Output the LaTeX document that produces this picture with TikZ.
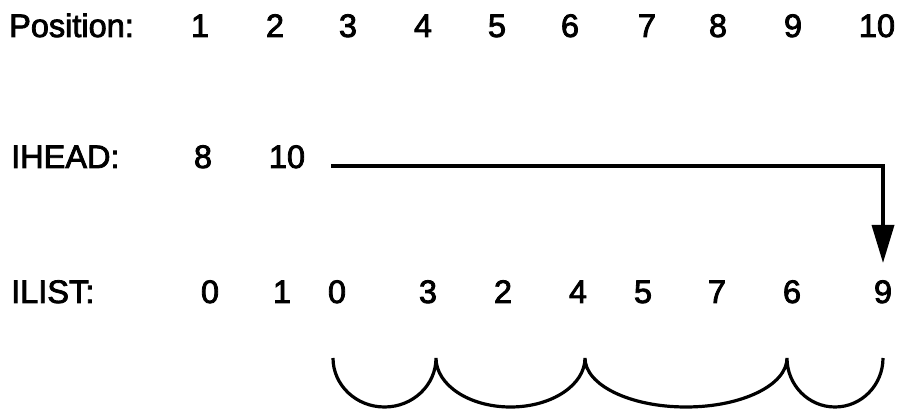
\documentclass[tikz,border=0pt]{standalone}
\usepackage{fontspec}
\setmainfont{Liberation Sans}[FakeBold=2.5]
\usetikzlibrary{arrows.meta}
\begin{document}
\begin{tikzpicture}[x=1pt,y=1pt,
  txt/.style={font=\fontsize{32.5}{38}\selectfont, inner sep=0pt, anchor=base},
  lbl/.style={txt, anchor=base west},
  link/.style={line width=3.5pt, -{Triangle[width=22pt,length=38pt]}},
  chain/.style={line width=3.2pt}]
\useasboundingbox (0,0) rectangle (898,410);
% Position row
\node[lbl] (plabel) at (9,373) {Position:};
\foreach \n/\x in {1/200,2/275,3/348,4/423,5/497,6/570,7/647,8/718,9/793,10/877}
  \node[txt] (p\n) at (\x,373) {\n};
% IHEAD row
\node[lbl] (hlabel) at (11,242) {IHEAD:};
\node[txt] (h1) at (203,242) {8};
\node[txt] (h2) at (287,242) {10};
% ILIST row
\node[lbl] (llabel) at (11,107) {ILIST:};
\foreach \n/\x/\v in {1/210/0,2/282/1,3/337/0,4/428/3,5/503/2,6/578/4,7/643/5,8/717/7,9/792/6,10/883/9}
  \node[txt] (l\n) at (\x,107) {\v};
% arrow
\coordinate (hs) at (331,244);
\coordinate (tip) at (883,147);
\draw[link] (hs) -| (tip);
% chain arcs
\coordinate (a0) at (333,52);
\coordinate (a1) at (436,52);
\coordinate (a2) at (585,52);
\coordinate (a3) at (787,52);
\coordinate (a4) at (883,52);
\draw[chain] (a0) arc[start angle=180,end angle=360,x radius=51.5,y radius=49]
             (a1) arc[start angle=180,end angle=360,x radius=74.5,y radius=49]
             (a2) arc[start angle=180,end angle=360,x radius=101,y radius=49]
             (a3) arc[start angle=180,end angle=360,x radius=48,y radius=49];
\end{tikzpicture}
\end{document}
